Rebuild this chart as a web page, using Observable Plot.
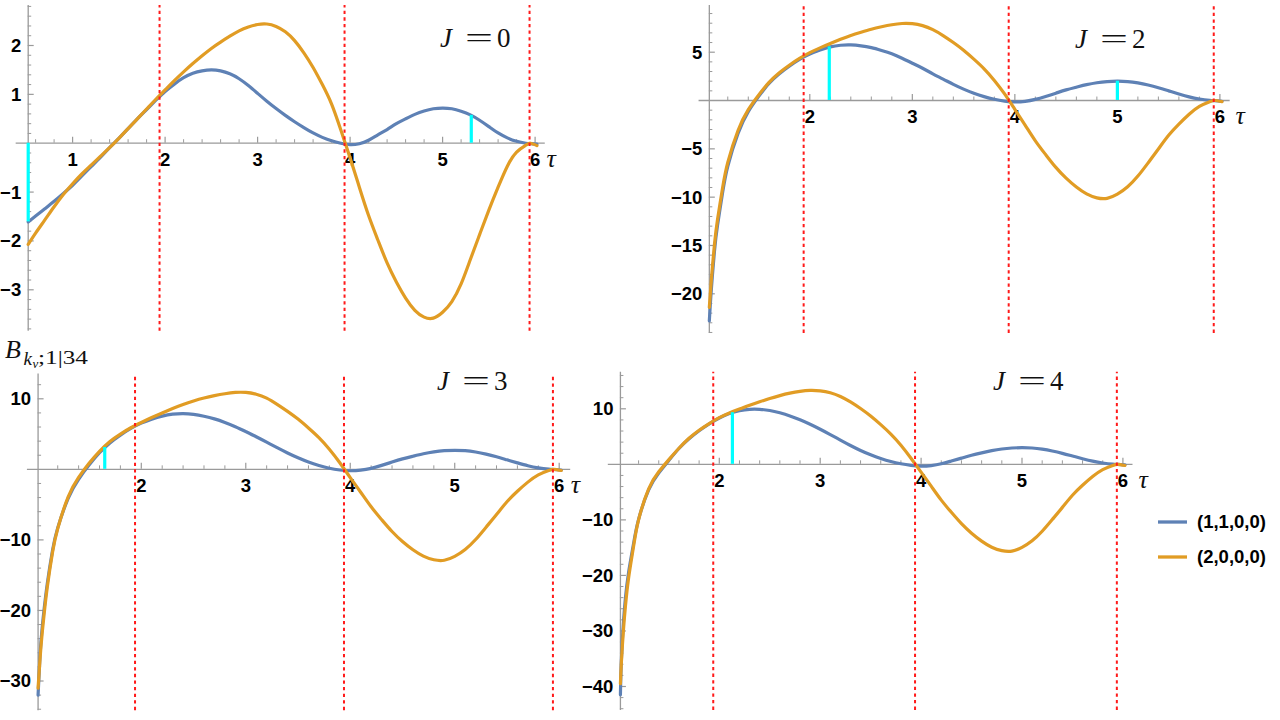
<!DOCTYPE html>
<html><head><meta charset="utf-8">
<script src="https://cdn.jsdelivr.net/npm/d3@7"></script>
<script src="https://cdn.jsdelivr.net/npm/@observablehq/plot@0.6"></script>
<style>
html,body{margin:0;padding:0;background:#fff;}
#root{position:relative;width:1280px;height:720px;overflow:hidden;background:#fff;}
.panel{position:absolute;}
.panel svg{overflow:visible;}
</style></head><body><div id="root"></div>
<script>
// ---------------- data ----------------
const jValues = [0, 2, 3, 4];
const seriesNames = ["(1,1,0,0)", "(2,0,0,0)"];
const seriesColors = ["#5e81b5", "#e19c24"];
const redTau = [1.94, 3.94, 5.94];

// J = 0
const tauJ0 = [0.52, 0.6, 0.7, 0.8, 0.9, 1.0, 1.1, 1.2, 1.3, 1.4, 1.5, 1.6, 1.7, 1.8, 1.9, 2.0, 2.1, 2.2, 2.3, 2.4, 2.5, 2.6, 2.7, 2.8, 2.9, 3.0, 3.1, 3.2, 3.3, 3.4, 3.5, 3.6, 3.7, 3.8, 3.9, 4.0, 4.1, 4.2, 4.3, 4.4, 4.5, 4.6, 4.7, 4.8, 4.9, 5.0, 5.1, 5.2, 5.3, 5.4, 5.5, 5.6, 5.7, 5.8, 5.9, 5.95, 6.02];
const blueJ0 = [-1.61, -1.49, -1.34, -1.19, -1.03, -0.86, -0.67, -0.48, -0.29, -0.09, 0.10, 0.30, 0.50, 0.69, 0.88, 1.06, 1.21, 1.34, 1.43, 1.48, 1.50, 1.48, 1.42, 1.32, 1.18, 1.02, 0.86, 0.71, 0.57, 0.44, 0.32, 0.21, 0.12, 0.05, 0.0, -0.03, -0.01, 0.06, 0.17, 0.28, 0.40, 0.50, 0.59, 0.66, 0.705, 0.72, 0.705, 0.655, 0.58, 0.47, 0.34, 0.21, 0.11, 0.04, 0.0, -0.01, -0.02];
const orangeJ0 = [-2.07, -1.84, -1.57, -1.30, -1.05, -0.83, -0.63, -0.45, -0.27, -0.09, 0.10, 0.30, 0.50, 0.70, 0.90, 1.09, 1.28, 1.46, 1.63, 1.79, 1.94, 2.07, 2.19, 2.30, 2.38, 2.43, 2.44, 2.39, 2.28, 2.10, 1.85, 1.55, 1.20, 0.80, 0.27, -0.30, -0.90, -1.48, -1.98, -2.45, -2.84, -3.17, -3.42, -3.56, -3.58, -3.46, -3.24, -2.88, -2.38, -1.87, -1.37, -0.90, -0.47, -0.18, -0.04, 0.0, -0.05];
const cyanTauJ0 = [0.52, 5.31];
const cyanTopJ0 = [-1.61, 0.57];
const xTicksJ0 = [1, 2, 3, 4, 5, 6];
const yTicksJ0 = [-3, -2, -1, 1, 2];

// J = 2
const tauJ2 = [1.02, 1.04, 1.07, 1.1, 1.15, 1.2, 1.3, 1.4, 1.5, 1.6, 1.7, 1.8, 1.9, 2.0, 2.1, 2.2, 2.3, 2.4, 2.5, 2.6, 2.7, 2.8, 2.9, 3.0, 3.1, 3.2, 3.3, 3.4, 3.5, 3.6, 3.7, 3.8, 3.9, 4.0, 4.1, 4.2, 4.3, 4.4, 4.5, 4.6, 4.7, 4.8, 4.9, 5.0, 5.1, 5.2, 5.3, 5.4, 5.5, 5.6, 5.7, 5.8, 5.9, 5.95, 6.02];
const blueJ2 = [-22.8, -19.5, -15.6, -12.9, -9.5, -6.8, -3.4, -1.15, 0.4, 1.75, 2.75, 3.55, 4.25, 4.8, 5.22, 5.55, 5.72, 5.75, 5.66, 5.47, 5.18, 4.84, 4.38, 3.86, 3.34, 2.76, 2.22, 1.67, 1.18, 0.75, 0.40, 0.13, -0.06, -0.15, -0.08, 0.12, 0.42, 0.76, 1.1, 1.38, 1.64, 1.84, 1.96, 2.0, 1.96, 1.82, 1.6, 1.32, 1.0, 0.68, 0.38, 0.16, 0.02, -0.02, -0.08];
const orangeJ2 = [-21.4, -18.5, -14.9, -12.3, -9.0, -6.4, -3.1, -0.95, 0.55, 1.85, 2.85, 3.65, 4.35, 4.95, 5.45, 5.9, 6.33, 6.73, 7.07, 7.38, 7.63, 7.84, 7.97, 7.95, 7.75, 7.33, 6.72, 6.0, 5.2, 4.28, 3.28, 2.08, 0.68, -0.92, -2.54, -4.17, -5.59, -6.92, -8.03, -8.95, -9.66, -10.07, -10.12, -9.69, -8.93, -7.82, -6.45, -5.02, -3.6, -2.44, -1.42, -0.61, -0.12, 0.0, -0.12];
const cyanTauJ2 = [2.19, 5.0];
const cyanTopJ2 = [5.55, 2.0];
const xTicksJ2 = [2, 3, 4, 5, 6];
const yTicksJ2 = [-20, -15, -10, -5, 5];

// J = 3
const tauJ3 = [1.012, 1.03, 1.05, 1.07, 1.1, 1.15, 1.2, 1.3, 1.4, 1.5, 1.6, 1.7, 1.8, 1.9, 2.0, 2.1, 2.2, 2.3, 2.4, 2.5, 2.6, 2.7, 2.8, 2.9, 3.0, 3.1, 3.2, 3.3, 3.4, 3.5, 3.6, 3.7, 3.8, 3.9, 4.0, 4.1, 4.2, 4.3, 4.4, 4.5, 4.6, 4.7, 4.8, 4.9, 5.0, 5.1, 5.2, 5.3, 5.4, 5.5, 5.6, 5.7, 5.8, 5.9, 5.95, 6.02];
const blueJ3 = [-32.0, -26.5, -22.6, -19.8, -16.2, -11.5, -8.3, -4.1, -1.4, 0.6, 2.35, 3.75, 4.85, 5.8, 6.55, 7.12, 7.55, 7.82, 7.9, 7.8, 7.53, 7.15, 6.65, 6.05, 5.35, 4.62, 3.85, 3.07, 2.32, 1.64, 1.04, 0.55, 0.16, -0.09, -0.2, -0.12, 0.14, 0.56, 1.03, 1.48, 1.86, 2.21, 2.48, 2.65, 2.7, 2.65, 2.46, 2.16, 1.78, 1.35, 0.92, 0.51, 0.21, 0.03, -0.02, -0.1];
const orangeJ3 = [-31.0, -27.0, -23.4, -20.5, -16.7, -11.8, -8.4, -3.9, -1.15, 0.85, 2.55, 3.95, 5.0, 5.9, 6.65, 7.35, 8.0, 8.62, 9.2, 9.7, 10.12, 10.45, 10.72, 10.9, 10.9, 10.65, 10.1, 9.22, 8.22, 7.12, 5.86, 4.49, 2.85, 0.93, -1.17, -3.24, -5.31, -7.12, -8.81, -10.23, -11.4, -12.3, -12.82, -12.89, -12.34, -11.37, -9.95, -8.2, -6.4, -4.59, -3.1, -1.81, -0.78, -0.16, 0.0, -0.16];
const cyanTauJ3 = [1.65];
const cyanTopJ3 = [3.1];
const xTicksJ3 = [2, 3, 4, 5, 6];
const yTicksJ3 = [-30, -20, -10, 10];

// J = 4
const tauJ4 = [1.02, 1.03, 1.05, 1.07, 1.1, 1.15, 1.2, 1.3, 1.4, 1.5, 1.6, 1.7, 1.8, 1.9, 2.0, 2.1, 2.2, 2.3, 2.4, 2.5, 2.6, 2.7, 2.8, 2.9, 3.0, 3.1, 3.2, 3.3, 3.4, 3.5, 3.6, 3.7, 3.8, 3.9, 4.0, 4.1, 4.2, 4.3, 4.4, 4.5, 4.6, 4.7, 4.8, 4.9, 5.0, 5.1, 5.2, 5.3, 5.4, 5.5, 5.6, 5.7, 5.8, 5.9, 5.95, 6.02];
const blueJ4 = [-41.5, -35.0, -28.4, -24.0, -19.6, -14.3, -9.9, -4.6, -1.55, 0.7, 2.85, 4.6, 6.05, 7.3, 8.35, 9.15, 9.65, 9.9, 9.9, 9.7, 9.28, 8.72, 8.02, 7.22, 6.32, 5.36, 4.37, 3.4, 2.5, 1.72, 1.05, 0.5, 0.1, -0.18, -0.33, -0.22, 0.1, 0.6, 1.12, 1.63, 2.07, 2.46, 2.76, 2.94, 3.0, 2.94, 2.73, 2.4, 1.98, 1.5, 1.02, 0.57, 0.24, 0.03, -0.02, -0.1];
const orangeJ4 = [-39.5, -35.5, -29.8, -25.5, -20.6, -14.8, -10.0, -4.4, -1.35, 0.85, 2.9, 4.7, 6.15, 7.35, 8.4, 9.25, 9.95, 10.62, 11.25, 11.85, 12.38, 12.82, 13.14, 13.3, 13.22, 12.88, 12.22, 11.25, 10.05, 8.7, 7.15, 5.45, 3.45, 1.1, -1.41, -3.93, -6.44, -8.64, -10.68, -12.4, -13.82, -14.92, -15.54, -15.62, -14.95, -13.77, -12.05, -9.94, -7.75, -5.56, -3.76, -2.19, -0.94, -0.19, 0.0, -0.2];
const cyanTauJ4 = [2.13];
const cyanTopJ4 = [9.3];
const xTicksJ4 = [2, 3, 4, 5, 6];
const yTicksJ4 = [-40, -30, -20, -10, 10];

const panelData = [
  {tau: tauJ0, blue: blueJ0, orange: orangeJ0, cyanTau: cyanTauJ0, cyanTop: cyanTopJ0, xTicks: xTicksJ0, yTicks: yTicksJ0},
  {tau: tauJ2, blue: blueJ2, orange: orangeJ2, cyanTau: cyanTauJ2, cyanTop: cyanTopJ2, xTicks: xTicksJ2, yTicks: yTicksJ2},
  {tau: tauJ3, blue: blueJ3, orange: orangeJ3, cyanTau: cyanTauJ3, cyanTop: cyanTopJ3, xTicks: xTicksJ3, yTicks: yTicksJ3},
  {tau: tauJ4, blue: blueJ4, orange: orangeJ4, cyanTau: cyanTauJ4, cyanTop: cyanTopJ4, xTicks: xTicksJ4, yTicks: yTicksJ4}
];

// ---------------- layout ----------------
const layout = [
  {left: 0, top: 0, width: 570, height: 345, xCal: [1, 72.1, 6, 534.6], yCal: [2, 45, -3, 289.3], xAxis: [0.39, 6.11], yAxisAt: 0.52, yAxis: [-3.85, 2.82], yMinor: 0.2, jAt: [440, 47], tauDx: 12},
  {left: 575, top: 0, width: 680, height: 345, xCal: [2, 809.3, 6, 1219.4], yCal: [5, 51.7, -20, 293.3], xAxis: [0.92, 6.10], yAxisAt: 1.02, yAxis: [-24.1, 9.83], yMinor: 1, jAt: [1075, 48], tauDx: 16},
  {left: 0, top: 345, width: 600, height: 375, xCal: [2, 140.8, 6, 558.7], yCal: [10, 398.3, -30, 680.5], xAxis: [0.91, 6.11], yAxisAt: 1.012, yAxis: [-34.2, 13.5], yMinor: 2, jAt: [437, 390], tauDx: 12},
  {left: 590, top: 345, width: 560, height: 375, xCal: [2, 718.8, 6, 1122.4], yCal: [10, 408.3, -40, 686], xAxis: [0.90, 6.10], yAxisAt: 1.02, yAxis: [-44.3, 16.6], yMinor: 2, jAt: [993, 390], tauDx: 16}
];

const FONT_SANS = "'Liberation Sans', Arial, sans-serif";
const FONT_SERIF = "'Liberation Serif', 'Times New Roman', serif";
const AXIS = "#9a9a9a";
const LABEL_SIZE = 18.5;

function mapper(L) {
  const kx = (L.xCal[3] - L.xCal[1]) / (L.xCal[2] - L.xCal[0]);
  const ky = (L.yCal[3] - L.yCal[1]) / (L.yCal[2] - L.yCal[0]);
  return {
    px: t => L.xCal[1] + (t - L.xCal[0]) * kx,
    py: v => L.yCal[1] + (v - L.yCal[0]) * ky,
    tau: px => L.xCal[0] + (px - L.xCal[1]) / kx,
    val: py => L.yCal[0] + (py - L.yCal[1]) / ky
  };
}
function minors(lo, hi, step, majors) {
  const out = [];
  for (let k = Math.ceil(lo / step - 1e-9); k * step <= hi + 1e-9; k++) {
    const v = +(k * step).toFixed(6);
    if (Math.abs(v) < 1e-9) continue;
    if (majors.some(m => Math.abs(m - v) < step / 2)) continue;
    out.push(v);
  }
  return out;
}
const fmt = d => d < 0 ? "\u2212" + (-d) : String(d);

const root = document.getElementById("root");

layout.forEach((L, i) => {
  const D = panelData[i];
  const M = mapper(L);
  const blueRows = D.tau.map((t, k) => ({tau: t, v: D.blue[k]}));
  const orangeRows = D.tau.map((t, k) => ({tau: t, v: D.orange[k]}));
  const cyanRows = D.cyanTau.map((t, k) => ({tau: t, top: D.cyanTop[k]}));
  const xMinor = minors(L.yAxisAt + 0.05, 6.0, 0.2, D.xTicks);
  const yMinor = minors(L.yAxis[0], L.yAxis[1], L.yMinor, D.yTicks);
  const chart = Plot.plot({
    width: L.width, height: L.height, margin: 0,
    x: {domain: [M.tau(L.left), M.tau(L.left + L.width)], axis: null},
    y: {domain: [M.val(L.top + L.height), M.val(L.top)], axis: null},
    style: {background: "transparent", overflow: "visible"},
    marks: [
      Plot.ruleY([0], {x1: L.xAxis[0], x2: L.xAxis[1], stroke: AXIS, strokeWidth: 1.3}),
      Plot.ruleX([L.yAxisAt], {y1: L.yAxis[0], y2: L.yAxis[1], stroke: AXIS, strokeWidth: 1.3}),
      Plot.ruleX(D.xTicks, {x: d => d, y1: 0, y2: 0, insetTop: -6, stroke: AXIS, strokeWidth: 1.2}),
      Plot.ruleX(xMinor, {x: d => d, y1: 0, y2: 0, insetTop: -3.5, stroke: AXIS, strokeWidth: 1}),
      Plot.ruleY(D.yTicks, {y: d => d, x1: L.yAxisAt, x2: L.yAxisAt, insetRight: -6, stroke: AXIS, strokeWidth: 1.2}),
      Plot.ruleY(yMinor, {y: d => d, x1: L.yAxisAt, x2: L.yAxisAt, insetRight: -3.5, stroke: AXIS, strokeWidth: 1}),
      Plot.text(D.xTicks, {x: d => d, y: 0, text: d => String(d), dy: 16.5, fontSize: LABEL_SIZE, fontWeight: "bold", fontFamily: FONT_SANS, fill: "#000"}),
      Plot.text(D.yTicks, {x: L.yAxisAt, y: d => d, text: fmt, textAnchor: "end", dx: -7, dy: 0.5, fontSize: LABEL_SIZE, fontWeight: "bold", fontFamily: FONT_SANS, fill: "#000"}),
      Plot.line(blueRows, {x: "tau", y: "v", stroke: seriesColors[0], strokeWidth: 3.2, curve: "natural"}),
      Plot.line(orangeRows, {x: "tau", y: "v", stroke: seriesColors[1], strokeWidth: 3.2, curve: "natural"}),
      Plot.ruleX(redTau, {x: d => d, y1: L.yAxis[0], y2: L.yAxis[1], stroke: "#ff1a1a", strokeWidth: 2, strokeDasharray: "3.3,3.3"}),
      Plot.ruleX(cyanRows, {x: "tau", y1: 0, y2: "top", stroke: "#00ffff", strokeWidth: 3.2})
    ]
  });
  const div = document.createElement("div");
  div.className = "panel";
  div.style.left = L.left + "px";
  div.style.top = L.top + "px";
  div.style.width = L.width + "px";
  div.style.height = L.height + "px";
  div.appendChild(chart);
  root.appendChild(div);
});

// ---------------- annotations ----------------
const ov = d3.select(root).append("svg")
  .attr("width", 1280).attr("height", 720)
  .style("position", "absolute").style("left", 0).style("top", 0)
  .style("overflow", "visible").style("pointer-events", "none");

layout.forEach((L, i) => {
  const M = mapper(L);
  const [x, y] = L.jAt;
  const g = ov.append("g").attr("font-family", FONT_SERIF).attr("font-size", 27).attr("fill", "#111");
  g.append("text").attr("x", x).attr("y", y).attr("font-style", "italic").text("J");
  g.append("text").attr("x", x + 25).attr("y", y).attr("textLength", 28).attr("lengthAdjust", "spacingAndGlyphs").text("=");
  g.append("text").attr("x", x + 57).attr("y", y).text(String(jValues[i]));
  ov.append("text").attr("x", M.px(6) + L.tauDx).attr("y", M.py(0) + 24)
    .attr("font-family", FONT_SERIF).attr("font-style", "italic").attr("font-size", 26).attr("fill", "#111").text("\u03c4");
});

// y label B_{k_v;1|34}
const bl = ov.append("g").attr("font-family", FONT_SERIF).attr("fill", "#111");
bl.append("text").attr("x", 5).attr("y", 358).attr("font-size", 26).attr("font-style", "italic").text("B");
bl.append("text").attr("x", 23.5).attr("y", 364.5).attr("font-size", 19).attr("font-style", "italic").text("k");
bl.append("text").attr("x", 32.5).attr("y", 368).attr("font-size", 13).attr("font-style", "italic").text("v");
bl.append("text").attr("x", 38).attr("y", 364).attr("font-size", 19).attr("textLength", 50).attr("lengthAdjust", "spacingAndGlyphs").text(";1|34");

// legend
const legendY = [522, 557];
seriesNames.forEach((name, k) => {
  ov.append("line").attr("x1", 1158).attr("x2", 1187).attr("y1", legendY[k]).attr("y2", legendY[k])
    .attr("stroke", seriesColors[k]).attr("stroke-width", 3.3);
  ov.append("text").attr("x", 1197).attr("y", legendY[k]).attr("dy", "0.35em")
    .attr("font-family", FONT_SANS).attr("font-weight", "bold").attr("font-size", LABEL_SIZE).attr("fill", "#000").text(name);
});
</script></body></html>
